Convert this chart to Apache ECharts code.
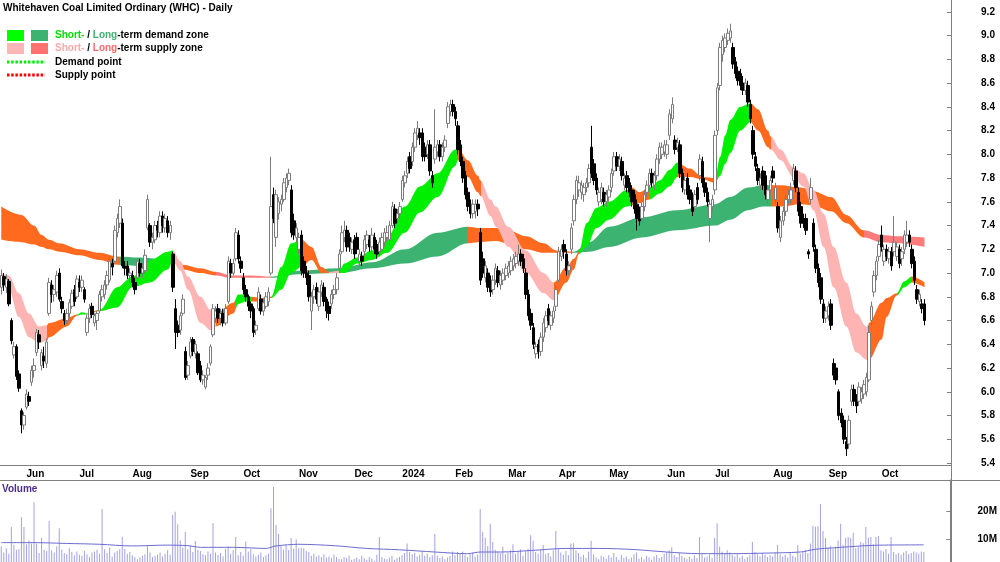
<!DOCTYPE html>
<html>
<head>
<meta charset="utf-8">
<title>WHC - Daily</title>
<script src="https://cdn.jsdelivr.net/npm/echarts@6/dist/echarts.min.js"></script>
<style>
  html, body { margin: 0; padding: 0; background: #fff; }
  #main { width: 1000px; height: 562px; }
</style>
</head>
<body>
<div id="main"></div>
<script>
// trading days on the chart (ASX calendar)
var firstDay = '2023-05-18';
var lastDay = '2024-10-24';
var holidays = ['2023-06-12', '2023-12-25', '2023-12-26', '2024-01-01', '2024-01-26',
  '2024-03-29', '2024-04-01', '2024-04-25', '2024-06-10'];
var padDays = 10; // empty space right of the last bar

// price and volume tick labels
var priceTicks = [5.4, 5.6, 5.8, 6.0, 6.2, 6.4, 6.6, 6.8, 7.0, 7.2, 7.4, 7.6, 7.8, 8.0, 8.2, 8.4, 8.6, 8.8, 9.0, 9.2];
var volumeTicks = [10, 20];

// daily bars: [open, close, low, high]
var ohlc = [
  [6.88,6.98,6.82,7.03],[6.97,6.90,6.85,7.00],[6.88,6.95,6.83,6.99],[6.93,6.74,6.72,6.95],[6.60,6.43,6.40,6.62],
  [6.31,6.38,6.28,6.42],[6.38,6.13,6.10,6.40],[6.15,6.03,6.00,6.18],[5.84,5.72,5.65,5.86],[5.72,5.80,5.68,5.83],
  [5.87,5.98,5.85,6.02],[5.96,5.92,5.88,6.00],[6.08,6.18,6.05,6.22],[6.18,6.22,6.12,6.28],[6.33,6.50,6.30,6.53],
  [6.48,6.42,6.36,6.52],[6.22,6.33,6.18,6.36],[6.30,6.26,6.20,6.38],[6.24,6.42,6.20,6.45],[6.66,6.92,6.64,6.96],
  [6.90,6.82,6.75,6.94],[6.82,6.86,6.76,6.90],[6.84,6.98,6.80,7.02],[7.00,6.78,6.76,7.04],[6.76,6.70,6.66,6.80],
  [6.66,6.60,6.56,6.69],[6.60,6.66,6.57,6.70],[6.66,6.75,6.62,6.78],[6.72,6.83,6.70,6.86],[6.86,6.76,6.72,6.90],
  [6.80,6.95,6.78,6.98],[6.92,6.88,6.84,6.98],[6.88,6.94,6.84,6.98],[6.86,6.78,6.75,6.88],[6.50,6.62,6.47,6.65],
  [6.62,6.70,6.58,6.74],[6.72,6.65,6.62,6.75],[6.58,6.64,6.55,6.66],[6.60,6.66,6.52,6.68],[6.68,6.82,6.66,6.85],
  [6.80,6.86,6.76,6.90],[6.82,6.90,6.78,6.94],[6.90,6.98,6.86,7.02],[6.94,7.10,6.92,7.14],[7.08,7.05,6.98,7.12],
  [7.10,7.36,7.08,7.40],[7.34,7.46,7.30,7.50],[7.42,7.56,7.38,7.62],[7.42,7.06,7.04,7.46],[7.06,7.04,6.98,7.10],
  [7.06,6.98,6.95,7.10],[6.98,7.00,6.92,7.04],[6.98,6.92,6.88,7.02],[6.92,6.86,6.82,6.96],[6.96,7.10,6.94,7.12],
  [7.08,7.00,6.97,7.12],[7.00,7.04,6.96,7.08],[7.02,7.15,7.00,7.20],[7.38,7.62,7.36,7.66],[7.40,7.26,7.22,7.42],
  [7.26,7.30,7.20,7.34],[7.28,7.40,7.25,7.44],[7.40,7.36,7.30,7.44],[7.34,7.48,7.30,7.52],[7.48,7.40,7.34,7.52],
  [7.38,7.46,7.34,7.50],[7.44,7.34,7.30,7.48],[7.34,7.40,7.28,7.44],[7.16,6.88,6.84,7.18],[6.70,6.50,6.36,6.78],
  [6.56,6.50,6.46,6.60],[6.52,6.64,6.48,6.67],[6.66,6.78,6.64,6.82],[6.34,6.12,6.10,6.38],[6.14,6.22,6.10,6.26],
  [6.30,6.42,6.28,6.46],[6.44,6.34,6.30,6.46],[6.32,6.40,6.28,6.43],[6.32,6.16,6.14,6.34],[6.22,6.10,6.08,6.26],
  [6.10,6.14,6.06,6.18],[6.04,6.12,6.02,6.14],[6.14,6.20,6.10,6.24],[6.24,6.38,6.22,6.40],[6.48,6.70,6.46,6.74],
  [6.62,6.68,6.58,6.72],[6.70,6.62,6.58,6.74],[6.62,6.66,6.56,6.70],[6.66,6.58,6.55,6.70],[6.58,6.70,6.56,6.74],
  [6.76,7.10,6.74,7.14],[7.08,7.00,6.96,7.12],[7.00,7.08,6.98,7.12],[7.12,7.34,7.10,7.38],[7.32,7.12,7.08,7.36],
  [7.10,7.04,7.00,7.14],[6.96,6.86,6.82,7.00],[6.86,6.80,6.76,6.90],[6.80,6.72,6.68,6.82],[6.74,6.68,6.62,6.76],
  [6.70,6.50,6.46,6.72],[6.52,6.56,6.48,6.60],[6.70,6.84,6.68,6.88],[6.78,6.68,6.65,6.82],[6.68,6.75,6.64,6.78],
  [6.72,6.80,6.70,6.84],[6.76,6.84,6.72,6.88],[7.00,7.56,6.98,7.98],[7.66,7.46,7.42,7.72],[7.30,7.66,7.22,7.70],
  [7.50,7.60,7.45,7.64],[7.58,7.62,7.52,7.66],[7.62,7.76,7.60,7.80],[7.72,7.80,7.68,7.84],[7.78,7.84,7.74,7.88],
  [7.70,7.34,7.30,7.74],[7.44,7.32,7.28,7.50],[7.30,7.38,7.26,7.42],[7.20,7.30,7.16,7.34],[7.32,7.02,6.98,7.36],
  [7.10,7.00,6.96,7.14],[7.00,6.96,6.90,7.06],[6.98,6.80,6.76,7.02],[6.68,6.80,6.52,6.84],[6.80,6.86,6.74,6.90],
  [6.88,6.78,6.74,6.92],[6.72,6.84,6.68,6.88],[6.84,6.90,6.80,6.94],[6.88,6.76,6.72,6.92],[6.78,6.68,6.62,6.80],
  [6.72,6.66,6.60,6.76],[6.74,6.82,6.70,6.86],[6.82,6.86,6.78,6.90],[6.86,6.96,6.82,7.00],[7.04,7.16,7.00,7.20],
  [7.18,7.34,7.16,7.40],[7.30,7.36,7.26,7.44],[7.36,7.22,7.18,7.40],[7.30,7.22,7.18,7.34],[7.20,7.26,7.16,7.30],
  [7.28,7.16,7.12,7.32],[7.30,7.20,7.16,7.34],[7.10,7.16,7.06,7.20],[7.14,7.10,7.06,7.18],[7.18,7.28,7.14,7.32],
  [7.24,7.32,7.20,7.36],[7.28,7.22,7.18,7.32],[7.22,7.32,7.18,7.38],[7.30,7.20,7.16,7.34],[7.24,7.16,7.12,7.28],
  [7.18,7.26,7.14,7.30],[7.20,7.30,7.18,7.34],[7.26,7.34,7.22,7.38],[7.30,7.34,7.26,7.40],[7.28,7.40,7.24,7.44],
  [7.40,7.56,7.38,7.60],[7.54,7.42,7.38,7.58],[7.46,7.50,7.42,7.54],[7.50,7.56,7.46,7.60],[7.62,7.78,7.60,7.82],
  [7.76,7.82,7.72,7.86],[7.84,7.94,7.80,7.98],[7.98,7.88,7.84,8.02],[7.94,8.06,7.90,8.10],[8.06,8.18,8.02,8.22],
  [8.16,8.22,8.12,8.28],[8.18,8.14,8.08,8.22],[8.18,7.98,7.94,8.22],[8.06,7.98,7.94,8.10],[8.00,8.08,7.96,8.12],
  [8.08,7.86,7.82,8.12],[7.82,7.76,7.72,7.86],[7.96,8.06,7.92,8.38],[8.02,8.08,7.98,8.12],[8.08,7.98,7.94,8.12],
  [7.98,8.06,7.94,8.10],[8.06,8.12,8.02,8.16],[8.26,8.40,8.22,8.44],[8.36,8.42,8.32,8.46],[8.42,8.36,8.32,8.46],
  [8.36,8.30,8.24,8.40],[8.24,8.04,8.00,8.28],[8.08,7.94,7.90,8.12],[7.94,7.80,7.76,7.98],[7.82,7.66,7.62,7.86],
  [7.68,7.56,7.52,7.72],[7.58,7.50,7.46,7.62],[7.50,7.58,7.46,7.62],[7.52,7.58,7.46,7.62],[7.58,7.54,7.48,7.62],
  [7.34,6.94,6.90,7.38],[7.12,7.00,6.96,7.18],[6.96,7.06,6.92,7.10],[7.00,6.88,6.84,7.04],[6.94,6.84,6.80,6.98],
  [6.86,6.94,6.82,6.98],[6.94,7.04,6.90,7.08],[7.02,6.92,6.88,7.06],[6.90,6.98,6.86,7.02],[6.94,7.00,6.90,7.04],
  [6.98,7.04,6.94,7.08],[7.00,7.06,6.96,7.10],[7.02,7.10,6.98,7.14],[7.06,7.12,7.02,7.16],[7.08,7.14,7.04,7.18],
  [7.10,7.16,7.06,7.24],[7.16,7.10,7.06,7.20],[7.12,7.04,7.00,7.16],[7.00,6.82,6.78,7.04],[6.82,6.64,6.60,6.86],
  [6.66,6.56,6.52,6.70],[6.54,6.40,6.36,6.58],[6.32,6.38,6.28,6.42],[6.40,6.34,6.28,6.44],[6.34,6.46,6.30,6.50],
  [6.46,6.58,6.42,6.62],[6.54,6.64,6.50,6.68],[6.70,6.60,6.56,6.74],[6.56,6.64,6.52,6.68],[6.62,6.68,6.58,6.72],
  [6.72,6.86,6.68,6.90],[6.94,7.18,6.92,7.22],[7.14,7.20,7.10,7.24],[7.24,7.18,7.12,7.28],[7.16,7.02,6.98,7.20],
  [7.02,7.06,6.98,7.10],[7.20,7.38,7.16,7.42],[7.44,7.62,7.40,7.66],[7.62,7.78,7.58,7.82],[7.70,7.76,7.64,7.82],
  [7.68,7.74,7.62,7.78],[7.66,7.72,7.60,7.76],[7.72,7.76,7.68,7.80],[7.76,7.88,7.72,7.92],[8.06,7.84,7.80,8.24],
  [7.92,7.78,7.74,7.96],[7.80,7.70,7.66,7.84],[7.60,7.68,7.56,7.72],[7.62,7.72,7.58,7.76],[7.68,7.60,7.56,7.72],
  [7.60,7.66,7.56,7.70],[7.64,7.70,7.60,7.74],[7.72,7.84,7.68,7.88],[7.86,7.98,7.82,8.02],[7.98,7.90,7.86,8.02],
  [7.90,7.96,7.86,8.00],[7.94,7.82,7.78,7.98],[7.74,7.80,7.70,7.84],[7.82,7.72,7.68,7.86],[7.76,7.68,7.64,7.80],
  [7.70,7.60,7.56,7.74],[7.66,7.54,7.50,7.70],[7.58,7.46,7.36,7.62],[7.52,7.44,7.40,7.56],[7.46,7.56,7.42,7.60],
  [7.56,7.66,7.52,7.70],[7.68,7.74,7.64,7.78],[7.74,7.84,7.70,7.88],[7.84,7.76,7.72,7.88],[7.74,7.82,7.70,7.86],
  [7.82,7.96,7.78,8.00],[7.96,8.06,7.92,8.10],[8.00,8.06,7.96,8.10],[8.02,8.08,7.98,8.12],[8.00,8.08,7.96,8.12],
  [8.16,8.34,8.12,8.38],[8.30,8.42,8.26,8.48],[8.12,8.04,8.00,8.16],[8.06,8.10,8.02,8.14],[8.08,7.84,7.80,8.12],
  [7.84,7.72,7.68,7.88],[7.70,7.78,7.66,7.82],[7.80,7.66,7.62,7.84],[7.70,7.62,7.58,7.74],[7.64,7.52,7.48,7.68],
  [7.56,7.66,7.52,7.70],[7.72,7.62,7.58,7.76],[7.82,7.96,7.78,8.00],[7.94,7.76,7.72,7.98],[7.76,7.68,7.64,7.80],
  [7.68,7.60,7.56,7.72],[7.46,7.58,7.26,7.62],[7.56,7.62,7.52,7.66],[7.70,8.16,7.66,8.20],[8.20,8.56,8.16,8.60],
  [8.58,8.90,8.54,8.94],[8.84,8.96,8.78,9.00],[8.90,8.98,8.86,9.02],[8.96,9.02,8.92,9.06],[8.98,9.04,8.94,9.10],
  [8.90,8.76,8.72,8.94],[8.78,8.68,8.64,8.82],[8.70,8.62,8.58,8.74],[8.68,8.58,8.54,8.72],[8.60,8.54,8.50,8.66],
  [8.54,8.60,8.50,8.64],[8.58,8.44,8.40,8.62],[8.42,8.30,8.26,8.46],[8.20,8.00,7.96,8.24],[7.98,7.90,7.86,8.02],
  [7.88,7.78,7.74,7.92],[7.74,7.80,7.70,7.84],[7.86,7.74,7.70,7.90],[7.82,7.66,7.62,7.86],[7.62,7.70,7.58,7.74],
  [7.70,7.78,7.66,7.82],[7.86,7.80,7.76,7.90],[7.62,7.72,7.58,7.76],[7.56,7.38,7.34,7.60],[7.30,7.44,7.26,7.48],
  [7.44,7.52,7.40,7.56],[7.52,7.62,7.48,7.66],[7.62,7.66,7.58,7.70],[7.62,7.70,7.58,7.76],[7.78,7.88,7.74,7.92],
  [7.86,7.72,7.68,7.90],[7.68,7.52,7.48,7.72],[7.56,7.42,7.38,7.60],[7.46,7.42,7.38,7.50],[7.46,7.36,7.32,7.50],
  [7.18,7.16,7.12,7.20],[7.62,7.72,7.58,7.80],[7.42,7.22,7.18,7.46],[7.20,7.04,7.00,7.24],[7.04,6.92,6.88,7.08],
  [6.96,6.78,6.74,7.00],[6.74,6.62,6.58,6.78],[6.62,6.68,6.58,6.72],[6.64,6.72,6.60,6.76],[6.74,6.56,6.52,6.78],
  [6.24,6.14,6.10,6.28],[6.20,6.10,6.06,6.24],[6.00,5.80,5.76,6.02],[5.82,5.74,5.70,5.86],[5.76,5.60,5.56,5.80],
  [5.58,5.52,5.46,5.62],[5.56,5.76,5.52,5.80],[5.92,6.02,5.88,6.06],[6.02,5.92,5.88,6.06],[5.94,5.88,5.82,5.98],
  [5.92,6.04,5.88,6.08],[5.94,6.00,5.90,6.04],[5.98,6.06,5.94,6.10],[6.00,6.12,5.96,6.16],[6.10,6.50,6.08,6.56],
  [6.60,6.72,6.56,6.76],[6.84,6.98,6.80,7.02],[6.98,7.10,6.94,7.14],[7.14,7.24,7.10,7.28],[7.32,7.22,7.18,7.40],
  [7.10,7.20,7.06,7.24],[7.20,7.14,7.10,7.24],[7.12,7.18,7.08,7.22],[7.18,7.06,7.02,7.22],[7.18,7.26,7.14,7.48],
  [7.14,7.22,7.10,7.26],[7.20,7.08,7.04,7.24],[7.12,7.18,7.06,7.22],[7.20,7.32,7.16,7.36],[7.26,7.32,7.22,7.44],
  [7.32,7.26,7.22,7.36],[7.20,7.08,7.04,7.24],[7.10,6.94,6.90,7.14],[6.86,6.78,6.74,6.90],[6.76,6.82,6.72,6.86],
  [6.74,6.70,6.66,6.78],[6.74,6.60,6.56,6.78]
];

// daily volume, millions
var volumes = [
  7.5, 5.2, 6.8, 4.8, 14.5, 8.0, 6.2, 6.5, 18.0, 14.5,
  8.2, 9.6, 8.5, 23.5, 8.4, 5.0, 10.6, 6.2, 5.8, 16.6,
  6.0, 5.2, 7.4, 14.0, 6.2, 5.0, 4.6, 6.8, 5.4, 4.2,
  5.6, 4.4, 4.0, 5.8, 4.6, 3.6, 5.2, 5.6, 6.2, 4.8,
  21.0, 6.4, 5.0, 7.0, 3.8, 5.2, 5.8, 6.4, 10.8, 6.6,
  4.8, 5.4, 4.2, 3.6, 2.8, 3.4, 4.0, 4.6, 7.6, 5.2,
  3.6, 4.0, 4.4, 5.2, 3.8, 4.8, 6.0, 4.4, 18.8, 20.0,
  15.5, 9.6, 7.0, 12.7, 6.4, 7.8, 5.4, 9.4, 6.2, 5.8,
  4.6, 4.2, 5.6, 4.8, 15.9, 5.2, 4.4, 5.0, 3.8, 6.6,
  7.4, 4.8, 6.0, 10.8, 4.2, 5.4, 4.0, 9.2, 5.6, 6.4,
  4.6, 3.8, 4.4, 5.2, 3.6, 4.2, 4.8, 21.3, 29.0, 15.2,
  11.9, 7.6, 6.2, 8.0, 6.0, 10.5, 6.6, 10.0, 6.8, 7.0,
  6.8, 5.8, 5.4, 4.0, 4.8, 3.8, 4.2, 3.6, 4.6, 3.4,
  3.8, 3.2, 4.4, 3.6, 3.0, 2.8, 3.6, 3.2, 4.0, 2.6,
  3.0, 3.4, 2.8, 4.0, 3.2, 2.6, 3.6, 3.0, 2.2, 4.4,
  10.8, 3.6, 3.0, 2.8, 3.4, 4.0, 2.6, 3.2, 3.6, 4.2,
  5.0, 8.5, 5.4, 4.6, 5.0, 3.8, 4.4, 5.6, 4.0, 4.8,
  3.6, 4.2, 11.9, 4.0, 3.2, 3.8, 2.8, 3.4, 4.0, 5.6,
  4.2, 5.4, 4.8, 5.6, 4.4, 3.6, 4.8, 5.2, 3.8, 4.4,
  21.0, 12.7, 10.6, 7.6, 15.6, 9.0, 6.2, 5.6, 5.0, 7.3,
  4.6, 5.2, 6.0, 8.2, 4.8, 5.6, 6.4, 4.0, 5.8, 6.6,
  11.5, 9.5, 5.4, 4.8, 6.2, 7.9, 4.6, 5.0, 3.8, 6.0,
  13.0, 6.4, 5.2, 4.4, 5.8, 4.2, 8.5, 8.6, 6.0, 5.0,
  3.8, 4.4, 3.2, 5.6, 9.5, 4.6, 3.4, 2.8, 4.0, 3.6,
  3.0, 4.2, 3.4, 5.0, 3.6, 2.6, 4.4, 3.2, 3.8, 2.8,
  3.4, 4.6, 5.2, 3.0, 3.6, 2.8, 4.0, 3.4, 2.6, 3.8,
  4.4, 3.2, 3.6, 4.8, 5.4, 6.0, 7.1, 4.2, 3.6, 5.0,
  4.0, 3.4, 2.8, 3.8, 3.0, 4.2, 3.2, 10.8, 4.6, 3.4,
  3.8, 4.4, 3.2, 10.5, 15.8, 7.4, 5.6, 4.8, 6.0, 5.2,
  4.4, 3.8, 4.6, 3.4, 4.0, 3.0, 3.6, 4.2, 9.0, 5.4,
  4.6, 3.8, 5.0, 4.4, 3.6, 4.2, 3.8, 5.2, 7.9, 4.6,
  3.8, 4.4, 3.4, 5.0, 4.0, 3.6, 7.9, 4.8, 5.4, 6.2,
  5.0, 8.5, 14.8, 14.6, 14.7, 22.8, 13.0, 10.5, 7.0, 7.5,
  6.6, 7.3, 9.6, 15.6, 8.0, 10.5, 10.8, 10.6, 12.4, 6.8,
  7.3, 9.0, 8.6, 14.5, 10.6, 10.8, 8.2, 10.8, 11.2, 6.0,
  5.6, 6.4, 4.8, 10.8, 5.4, 4.6, 5.0, 4.4, 5.2, 5.8,
  4.6, 5.0, 5.6, 5.2, 4.8, 5.6, 5.4
];

// volume moving average: [day index, millions]
var volumeAvg = [
  [0, 8.8], [13, 8.8], [26, 8.5], [39, 8.2], [52, 7.6], [66, 7.9], [74, 7.7], [79, 7.1],
  [92, 7.1], [105, 6.7], [109, 7.6], [118, 8.2], [132, 7.7], [145, 6.7], [158, 6.2],
  [172, 5.4], [185, 4.8], [190, 5.4], [198, 5.4], [211, 6.0], [224, 6.7], [237, 6.7],
  [251, 6.3], [264, 5.4], [277, 4.8], [290, 4.8], [303, 5.0], [317, 5.4], [323, 6.4],
  [330, 6.9], [343, 7.7], [350, 7.9], [366, 8.0]
];

// short-term ribbon edges: [day index, lower, upper]
var shortBand = [
  [0,6.98,7.00],[3,6.86,6.98],[7,6.63,6.83],[11,6.46,6.66],[15,6.41,6.55],[18,6.43,6.56],
  [19,6.46,6.58],[26,6.55,6.62],[30,6.64,6.65],[32,6.65,6.67],[34,6.65,6.66],[39,6.68,6.69],
  [46,6.71,6.88],[52,6.88,6.97],[59,6.92,7.11],[66,7.03,7.18],[68,7.10,7.19],[71,7.02,7.10],
  [74,6.86,6.97],[79,6.58,6.80],[83,6.52,6.69],[85,6.55,6.66],[92,6.66,6.75],[94,6.74,6.82],
  [97,6.76,6.82],[99,6.76,6.80],[103,6.76,6.79],[107,6.79,6.80],[111,6.86,7.05],[115,7.00,7.25],
  [119,7.05,7.28],[123,7.11,7.22],[127,7.00,7.05],[130,7.00,7.01],[134,7.00,7.02],[136,7.00,7.08],
  [141,7.08,7.13],[147,7.11,7.19],[153,7.17,7.30],[160,7.34,7.56],[166,7.51,7.73],[173,7.64,7.84],
  [180,7.90,8.04],[181,7.95,8.05],[185,7.81,7.95],[189,7.68,7.82],[190,7.65,7.78],[194,7.48,7.62],
  [196,7.39,7.56],[201,7.22,7.39],[208,7.00,7.19],[215,6.83,7.00],[219,6.77,6.92],[224,6.92,7.05],
  [227,7.03,7.12],[229,7.16,7.18],[232,7.22,7.42],[236,7.38,7.55],[241,7.45,7.60],[248,7.56,7.70],
  [250,7.57,7.72],[253,7.59,7.68],[257,7.62,7.72],[261,7.67,7.78],[265,7.73,7.87],[268,7.81,7.93],
  [273,7.81,7.88],[278,7.79,7.81],[283,7.76,7.80],[285,7.82,7.98],[287,7.92,8.16],[289,8.01,8.29],
  [293,8.20,8.40],[297,8.27,8.43],[300,8.20,8.38],[304,8.06,8.20],[305,8.04,8.15],[309,7.95,8.04],
  [314,7.81,7.89],[318,7.73,7.84],[322,7.53,7.70],[326,7.22,7.50],[330,6.88,7.22],[335,6.55,6.92],
  [339,6.33,6.66],[343,6.27,6.55],[344,6.27,6.58],[349,6.44,6.75],[351,6.63,6.79],[355,6.81,6.83],
  [358,6.88,6.93],[361,6.92,6.97],[366,6.88,6.92]
];
// zones along the short-term ribbon: [from day, to day, kind]
var shortZones = [
  [0,18,'down'],[18,30,'turn'],[30,34,'up'],[34,39,'turn'],[39,68,'up'],[68,85,'down'],
  [85,93,'turn'],[93,99,'up'],[99,107,'turn'],[107,119,'up'],[119,130,'turn'],[130,134,'down'],
  [134,181,'up'],[181,190,'turn'],[190,219,'down'],[219,229,'turn'],[229,250,'up'],[250,257,'turn'],
  [257,268,'up'],[268,284,'turn'],[284,297,'up'],[297,305,'turn'],[305,344,'down'],[344,355,'turn'],
  [355,361,'up'],[361,400,'turn']
];

// long-term ribbon edges: [day index, lower, upper]
var longBand = [
  [0,7.28,7.56],[8,7.26,7.49],[13,7.24,7.40],[16,7.22,7.32],[19,7.20,7.28],[23,7.18,7.25],
  [31,7.15,7.20],[39,7.11,7.17],[46,7.07,7.14],[55,7.06,7.13],[62,7.07,7.12],[65,7.08,7.12],
  [68,7.10,7.11],[72,7.03,7.07],[79,7.00,7.04],[85,6.98,7.01],[91,6.96,6.98],[99,6.96,6.98],
  [107,6.96,6.97],[118,6.99,7.02],[134,7.00,7.04],[147,7.04,7.09],[160,7.08,7.20],[173,7.14,7.34],
  [185,7.25,7.39],[189,7.26,7.38],[196,7.27,7.38],[201,7.25,7.36],[208,7.20,7.31],[215,7.17,7.25],
  [220,7.17,7.19],[227,7.17,7.18],[233,7.18,7.26],[241,7.22,7.39],[254,7.30,7.47],[268,7.36,7.53],
  [283,7.40,7.58],[289,7.45,7.64],[296,7.53,7.72],[302,7.56,7.74],[309,7.56,7.74],[317,7.58,7.72],
  [322,7.57,7.69],[329,7.52,7.64],[335,7.42,7.49],[342,7.30,7.36],[349,7.26,7.32],[355,7.25,7.31],
  [366,7.22,7.30]
];
var longZones = [
  [0,47,'turn'],[47,62,'upLong'],[62,85,'turn'],[85,107,'downLong'],[107,185,'upLong'],
  [185,227,'turn'],[227,305,'upLong'],[305,342,'turn'],[342,400,'downLong']
];

var zoneColors = {
  up: '#00ee00',
  upLong: '#3cb371',
  down: '#ffb4b4',
  downLong: '#ff7a7a',
  turn: '#ff6a1f'
};

var font = 'Liberation Sans, Arial, sans-serif';
var monthNames = ['Jan', 'Feb', 'Mar', 'Apr', 'May', 'Jun', 'Jul', 'Aug', 'Sep', 'Oct', 'Nov', 'Dec'];

// build the trading-day list
var dates = [];
(function () {
  var d = new Date(firstDay + 'T00:00:00Z');
  var end = new Date(lastDay + 'T00:00:00Z');
  while (d <= end) {
    var s = d.toISOString().slice(0, 10);
    var wd = d.getUTCDay();
    if (wd !== 0 && wd !== 6 && holidays.indexOf(s) < 0) dates.push(s);
    d.setUTCDate(d.getUTCDate() + 1);
  }
})();
var categories = dates.slice();
for (var p = 0; p < padDays; p++) categories.push('');

function isMonthStart(idx) {
  if (idx <= 0 || idx >= dates.length) return false;
  return dates[idx].slice(5, 7) !== dates[idx - 1].slice(5, 7);
}
function monthLabel(value) {
  if (!value) return '';
  var m = +value.slice(5, 7);
  return m === 1 ? value.slice(0, 4) : monthNames[m - 1];
}

// a ribbon = transparent lower line + stacked thickness filled through a visualMap
function ribbon(band, name) {
  var common = {
    type: 'line', xAxisIndex: 0, yAxisIndex: 0, stack: name,
    smooth: 0.35, smoothMonotone: 'x', showSymbol: false, symbol: 'none',
    silent: true, animation: false, z: 1,
    lineStyle: { width: 0, opacity: 0 }
  };
  return [
    Object.assign({}, common, { name: name + '-lo', data: band.map(function (b) { return [b[0], b[1]]; }) }),
    Object.assign({}, common, {
      name: name,
      data: band.map(function (b) { return [b[0], +(b[2] - b[1]).toFixed(3)]; }),
      areaStyle: { opacity: 1 }
    })
  ];
}
function pieces(zones) {
  return zones.map(function (z) { return { gte: z[0], lt: z[1], color: zoneColors[z[2]] }; });
}

var series = [];
series = series.concat(ribbon(longBand, 'long'));   // 0, 1
series = series.concat(ribbon(shortBand, 'short')); // 2, 3
series.push({
  type: 'candlestick', name: 'WHC', xAxisIndex: 0, yAxisIndex: 0, z: 3,
  barWidth: 3,
  data: ohlc,
  itemStyle: { color: '#ffffff', borderColor: '#7c7c7c', color0: '#000000', borderColor0: '#000000', borderWidth: 1 }
});
series.push({
  type: 'bar', name: 'Volume', xAxisIndex: 1, yAxisIndex: 1, barWidth: 1,
  data: volumes, itemStyle: { color: '#a2a2e4' }, silent: true
});
series.push({
  type: 'line', name: 'Volume MA', xAxisIndex: 1, yAxisIndex: 1, data: volumeAvg,
  smooth: 0.3, showSymbol: false, symbol: 'none', silent: true,
  lineStyle: { color: '#6c6cd2', width: 1 }
});

var axisGrey = '#808080';
var labelStyle = { color: '#000', fontSize: 10, fontWeight: 'bold', fontFamily: font };

var option = {
  animation: false,
  backgroundColor: '#ffffff',
  grid: [
    // 9.2 sits 12px below the top, 5.4 at 463
    { left: 0, right: 49, top: 0, height: 463 },
    // 20M at 512, 10M at 540: zero lies just under the picture
    { left: 0, right: 49, top: 480, height: 82 }
  ],
  xAxis: [
    {
      gridIndex: 0, type: 'category', data: categories, boundaryGap: true, offset: 2,
      axisLine: { lineStyle: { color: axisGrey } },
      axisTick: { interval: isMonthStart, length: 4, lineStyle: { color: axisGrey } },
      axisLabel: Object.assign({ interval: isMonthStart, formatter: monthLabel, align: 'left', margin: 4 }, labelStyle),
      splitLine: { show: false }
    },
    {
      gridIndex: 1, type: 'category', data: categories, boundaryGap: true,
      axisLine: { show: false }, axisTick: { show: false }, axisLabel: { show: false }
    }
  ],
  yAxis: [
    {
      gridIndex: 0, type: 'value', position: 'right', min: 5.4, max: 9.3,
      axisLine: { show: true, lineStyle: { color: axisGrey } },
      axisTick: { show: true, inside: true, length: 4, customValues: priceTicks, lineStyle: { color: axisGrey } },
      axisLabel: Object.assign({
        customValues: priceTicks, margin: 37, align: 'center',
        formatter: function (v) { return v.toFixed(1); }
      }, labelStyle),
      splitLine: { show: false }
    },
    {
      gridIndex: 1, type: 'value', position: 'right', min: 1.78, max: 31.5,
      axisLine: { show: true, lineStyle: { color: axisGrey } },
      axisTick: { show: true, inside: true, length: 4, customValues: volumeTicks, lineStyle: { color: axisGrey } },
      axisLabel: Object.assign({
        customValues: volumeTicks, margin: 37, align: 'center',
        formatter: function (v) { return v + 'M'; }
      }, labelStyle),
      splitLine: { show: false }
    }
  ],
  visualMap: [
    { type: 'piecewise', show: false, dimension: 0, seriesIndex: 1, pieces: pieces(longZones) },
    { type: 'piecewise', show: false, dimension: 0, seriesIndex: 3, pieces: pieces(shortZones) }
  ],
  series: series,
  graphic: [
    { type: 'line', silent: true, z: 10, shape: { x1: 951.5, y1: 0, x2: 951.5, y2: 562 }, style: { stroke: axisGrey, lineWidth: 1 } },
    { type: 'line', silent: true, z: 10, shape: { x1: 0, y1: 480.5, x2: 1000, y2: 480.5 }, style: { stroke: axisGrey, lineWidth: 1 } },
    { type: 'text', x: 3, y: 8.5, style: { text: 'Whitehaven Coal Limited Ordinary (WHC) - Daily', fill: '#000', font: 'bold 10px ' + font, verticalAlign: 'middle' } },
    // legend
    { type: 'rect', shape: { x: 7, y: 30, width: 17, height: 11 }, style: { fill: '#00ff00' } },
    { type: 'rect', shape: { x: 31, y: 30, width: 17, height: 11 }, style: { fill: '#3cb371' } },
    { type: 'rect', shape: { x: 7, y: 43, width: 17, height: 11 }, style: { fill: '#ffb6b6' } },
    { type: 'rect', shape: { x: 31, y: 43, width: 17, height: 11 }, style: { fill: '#ff7070' } },
    {
      type: 'text', x: 55, y: 35,
      style: {
        text: '{g|Short-} / {l|Long}-term demand zone', fill: '#000', font: 'bold 10px ' + font, verticalAlign: 'middle',
        rich: { g: { fill: '#00dd00', font: 'bold 10px ' + font }, l: { fill: '#3cb371', font: 'bold 10px ' + font } }
      }
    },
    {
      type: 'text', x: 55, y: 48.5,
      style: {
        text: '{g|Short-} / {l|Long}-term supply zone', fill: '#000', font: 'bold 10px ' + font, verticalAlign: 'middle',
        rich: { g: { fill: '#ffaaaa', font: 'bold 10px ' + font }, l: { fill: '#ff6a6a', font: 'bold 10px ' + font } }
      }
    },
    { type: 'line', shape: { x1: 7, y1: 62, x2: 45, y2: 62 }, style: { stroke: '#00ee00', lineWidth: 3, lineDash: [2.5, 1.7] } },
    { type: 'line', shape: { x1: 7, y1: 75, x2: 45, y2: 75 }, style: { stroke: '#ff0000', lineWidth: 3, lineDash: [2.5, 1.7] } },
    { type: 'text', x: 55, y: 62, style: { text: 'Demand point', fill: '#000', font: 'bold 10px ' + font, verticalAlign: 'middle' } },
    { type: 'text', x: 55, y: 75, style: { text: 'Supply point', fill: '#000', font: 'bold 10px ' + font, verticalAlign: 'middle' } },
    { type: 'text', x: 2, y: 489.5, style: { text: 'Volume', fill: '#4b2c8c', font: 'bold 10px ' + font, verticalAlign: 'middle' } }
  ]
};

var chart = echarts.init(document.getElementById('main'));
chart.setOption(option);
</script>
</body>
</html>
